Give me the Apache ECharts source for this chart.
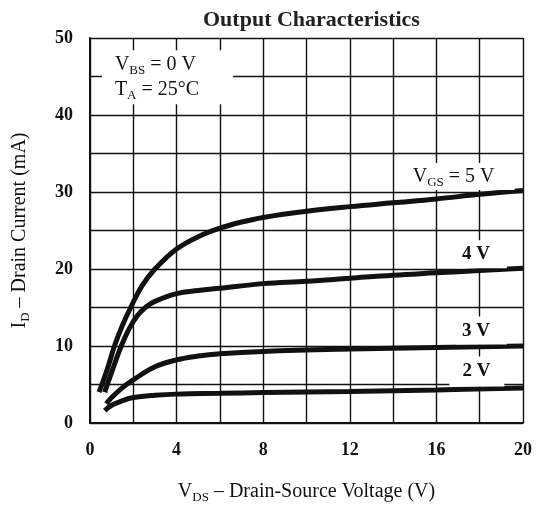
<!DOCTYPE html>
<html>
<head>
<meta charset="utf-8">
<script src="https://cdn.jsdelivr.net/npm/echarts@6/dist/echarts.min.js"></script>
<style>
  html, body { margin: 0; padding: 0; background: #fff; }
  #chart { width: 545px; height: 509px; }
</style>
</head>
<body>
<div id="chart"></div>
<script>
  // V_DS (V) against I_D (mA)
  var vds5 = [0.42, 0.8, 1.13, 1.5, 1.88, 2.4, 3, 4, 5, 6, 7, 8, 10, 12, 14, 16, 18, 20];
  var id5 = [4.0, 7.0, 10, 12.7, 15, 17.8, 20, 22.6, 24.2, 25.3, 26.1, 26.7, 27.5, 28.1, 28.6, 29.1, 29.7, 30.2];

  var vds4 = [0.68, 1.0, 1.43, 1.8, 2.2, 2.6, 3, 4, 5, 6, 8, 10, 12, 14, 16, 18, 20];
  var id4 = [4.0, 6.6, 9.9, 12.2, 14.0, 15.1, 15.8, 16.8, 17.2, 17.5, 18.1, 18.4, 18.8, 19.2, 19.5, 19.8, 20.1];

  var vds3 = [0.75, 1.0, 1.5, 2, 3, 4, 5, 6, 8, 12, 16, 20];
  var id3 = [2.5, 3.3, 4.6, 5.6, 7.3, 8.2, 8.7, 9.0, 9.3, 9.6, 9.8, 10.0];

  var vds2 = [0.68, 1.0, 1.5, 2, 3, 4, 6, 8, 12, 16, 20];
  var id2 = [1.6, 2.3, 2.9, 3.3, 3.6, 3.75, 3.85, 3.95, 4.1, 4.3, 4.55];

  var curveTags = ['{n|V}{s|GS}{n| = 5 V}', '{n|4 V}', '{n|3 V}', '{n|2 V}'];
  var noteText = '{n|V}{s|BS}{n| = 0 V}\n{n|T}{s|A}{n| = 25°C}';

  var serif = 'Liberation Serif';
  var ink = '#111';

  function pairs(xs, ys) {
    return xs.map(function (x, i) { return [x, ys[i]]; });
  }

  function richSet(size, weight) {
    return {
      n: { fontFamily: serif, fontSize: size, fontWeight: weight, color: ink, lineHeight: size + 5 },
      s: { fontFamily: serif, fontSize: Math.round(size * 0.66), fontWeight: weight, color: ink, verticalAlign: 'bottom', lineHeight: Math.round(size * 0.8) }
    };
  }

  // white box label, anchored at its left edge
  function tag(x, y, text, pad, rich) {
    return {
      coord: [x, y],
      label: {
        show: true, position: 'inside', align: 'left', verticalAlign: 'middle',
        formatter: text, backgroundColor: '#fff', padding: pad, rich: rich
      }
    };
  }

  function curve(xs, ys, tags) {
    return {
      type: 'line',
      data: pairs(xs, ys),
      smooth: 0.4,
      symbol: 'none',
      lineStyle: { color: ink, width: 5 },
      markPoint: { symbol: 'rect', symbolSize: 0, silent: true, animation: false, data: tags }
    };
  }

  var chart = echarts.init(document.getElementById('chart'));

  var gridLine = { color: ink, width: 1.4 };

  chart.setOption({
    animation: false,
    backgroundColor: '#fff',
    title: {
      text: 'Output Characteristics',
      left: 198, top: 4,
      textStyle: { fontFamily: serif, fontSize: 22, fontWeight: 'bold', color: '#222' }
    },
    grid: { left: 90, right: 22, top: 38, bottom: 79 },
    xAxis: {
      type: 'value', min: 0, max: 20, interval: 4,
      name: '{n|V}{s|DS}{n| – Drain-Source Voltage (V)}',
      nameLocation: 'middle', nameGap: 56,
      nameTextStyle: { rich: richSet(20, 'normal') },
      axisLine: { show: true, lineStyle: { color: ink, width: 2 } },
      axisTick: { show: false },
      minorTick: { show: false, splitNumber: 2 },
      splitLine: { show: true, lineStyle: gridLine },
      minorSplitLine: { show: true, lineStyle: gridLine },
      axisLabel: { margin: 18, fontFamily: serif, fontSize: 18, fontWeight: 'bold', color: ink }
    },
    yAxis: {
      type: 'value', min: 0, max: 50, interval: 10,
      name: '{n|I}{s|D}{n| – Drain Current (mA)}',
      nameLocation: 'middle', nameGap: 58,
      nameTextStyle: { rich: richSet(20, 'normal') },
      axisLine: { show: true, lineStyle: { color: ink, width: 2 } },
      axisTick: { show: false },
      minorTick: { show: false, splitNumber: 2 },
      splitLine: { show: true, lineStyle: gridLine },
      minorSplitLine: { show: true, lineStyle: gridLine },
      axisLabel: { margin: 17, fontFamily: serif, fontSize: 18, fontWeight: 'bold', color: ink }
    },
    series: [
      curve(vds5, id5, [tag(14.4, 32.0, curveTags[0], [1, 20, 1, 11], richSet(20, 'normal'))]),
      curve(vds4, id4, [tag(16.9, 21.9, curveTags[1], [2, 17, 2, 6], richSet(19, 'bold'))]),
      curve(vds3, id3, [tag(16.9, 12.0, curveTags[2], [2, 17, 2, 6], richSet(19, 'bold'))]),
      curve(vds2, id2, [
        tag(16.6, 6.7, curveTags[3], [3, 14, 3, 13], richSet(19, 'bold')),
        tag(0.55, 44.9, noteText, [2, 34, 2, 13], richSet(20, 'normal'))
      ])
    ]
  });
</script>
</body>
</html>
